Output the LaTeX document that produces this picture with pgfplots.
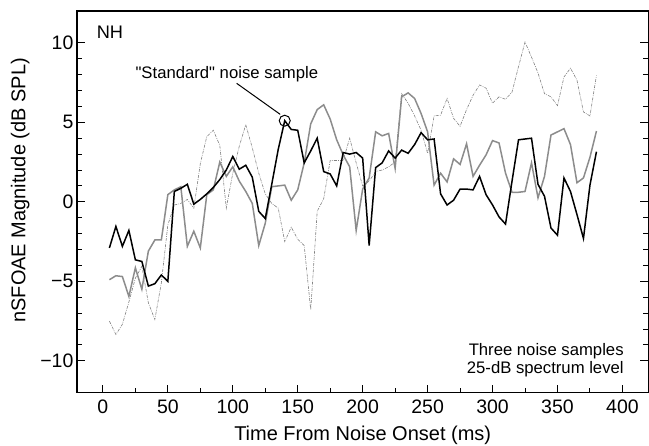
\documentclass[border=0pt]{standalone}
\usepackage{fontspec}
\setmainfont{Liberation Sans}
\usepackage{pgfplots}
\usepackage{pgfplotstable}
\pgfplotsset{compat=1.18}

% nSFOAE magnitude (dB SPL) vs time from noise onset (ms), three noise samples
\pgfplotstableread{
t    std    alt    thin
5    -2.9   -4.9   -7.5
10   -1.55  -4.65  -8.35
15   -2.8   -4.7   -7.7
20   -1.8   -5.95  -6.3
25   -3.65  -4.15  -4.8
30   -3.75  -5.5   -4.05
35   -5.3   -3.1   -6.35
40   -5.15  -2.4   -7.4
45   -4.6   -2.4   -5.1
50   -5.0   0.45   -1.45
55   0.65   0.75   -0.2
60   0.85   0.95   -0.1
65   1.1    -2.8   0.15
70   -0.15  -1.85  -0.4
75   0.15   -2.9   2.4
80   0.5    0.45   4.1
85   0.9    0.75   4.5
90   1.4    2.5    3.55
95   2.0    1.6    -0.4
100  2.85   2.2    1.8
105  2.05   1.3    3.5
110  2.3    0.65   4.85
115  1.55   -0.1   3.4
120  -0.6   -2.75  1.8
125  -1.05  -1.35  0.5
130  1.1    0.95   -0.1
135  3.3    1.0    -0.4
140  5.1    1.05   -2.5
145  4.55   0.1    -1.6
150  4.5    0.75   -2.35
155  2.45   2.45   -2.75
160  3.2    4.9    -6.8
165  4.0    5.8    -0.6
170  1.9    6.1    0.2
175  1.75   5.2    2.6
180  1.0    3.9    2.6
185  3.1    2.95   2.6
190  3.0    2.2    4.0
195  3.1    -1.8   2.45
200  2.75   0.8    1.0
205  -2.75  1.5    1.3
210  2.15   4.4    1.9
215  2.45   4.15   2.0
220  3.2    4.3    2.2
225  2.75   2.1    2.5
230  3.25   6.6    6.8
235  3.05   6.85   6.2
240  3.6    6.5    5.4
245  4.35   5.55   4.5
250  3.9    4.4    3.05
255  3.95   1.05   5.4
260  0.5    1.8    5.45
265  -0.2   1.25   6.5
270  0.1    2.7    5.25
275  0.8    2.35   4.75
280  0.8    3.65   5.8
285  0.75   1.6    6.7
290  1.6    2.3    7.35
295  0.45   2.95   7.15
300  -0.2   3.85   6.2
305  -0.95  3.7    6.6
310  -1.4   1.8    6.45
315  1.3    0.6    6.9
320  3.9    0.6    8.5
325  3.95   0.65   10.05
330  4.0    2.45   9.1
335  1.1    0.25   8.1
340  0.35   1.6    6.8
345  -1.65  4.2    6.6
350  -2.1   4.4    6.05
355  1.5    4.6    7.85
360  0.65   3.6    8.4
365  -0.8   1.2    7.65
370  -2.3   1.5    5.65
375  1.05   2.8    5.4
380  3.15   4.45   7.95
}\samples

\begin{document}
\begin{tikzpicture}
\begin{axis}[
    scale only axis,
    width=572bp, height=382bp,
    xmin=-20, xmax=420,
    ymin=-12, ymax=12,
    xtick={0,50,...,400},
    minor x tick num=1,
    ytick={-10,-5,0,5,10},
    yticklabels={−10,−5,0,5,10},
    minor y tick num=4,
    tick align=inside,
    xtick pos=lower,
    ytick pos=both,
    yticklabel pos=left,
    major tick length=8bp,
    minor tick length=5bp,
    every tick/.style={black, line width=1bp},
    axis line style={line width=1.2bp},
    /pgf/number format/assume math mode=true,
    tick label style={font=\fontsize{19.5bp}{22bp}\selectfont},
    xticklabel shift=4bp,
    label style={font=\fontsize{20bp}{23bp}\selectfont},
    xlabel={Time From Noise Onset (ms)},
    ylabel={nSFOAE Magnitude (dB SPL)},
    xlabel shift=5bp,
    ylabel shift=4bp,
    ylabel style={at={(ticklabel cs:0.53)}},
]
\addplot[black!50, line width=0.6bp, dash pattern=on 3bp off 1.2bp on 0.8bp off 1.2bp] table[x=t, y=thin] {\samples};
\addplot[black!45, line width=1.5bp] table[x=t, y=alt] {\samples};
\addplot[black, line width=1.5bp] table[x=t, y=std] {\samples};
\addplot[only marks, mark=o, mark size=5.5bp, mark options={black, line width=1bp}] coordinates {(140,5.1)};

\draw[black, line width=1bp] (axis cs:103,7.45) -- (axis cs:136.5,5.5);
\node[anchor=west, inner sep=0, font=\fontsize{16.7bp}{18bp}\selectfont] at (axis cs:25,8.04) {\textquotedbl Standard\textquotedbl{} noise sample};
\node[anchor=west, inner sep=0, font=\fontsize{18.2bp}{20bp}\selectfont] at (rel axis cs:0.0344,0.9437) {NH};
\node[anchor=east, align=right, inner sep=0, font=\fontsize{16.7bp}{17.5bp}\selectfont] at (rel axis cs:0.957,0.0856) {Three noise samples\\25-dB spectrum level};

\coordinate (sw) at (rel axis cs:0,0);
\coordinate (ne) at (rel axis cs:1,1);
\end{axis}
\pgfresetboundingbox
\path[use as bounding box] ([shift={(-77bp,-53bp)}]sw) rectangle ([shift={(0.6bp,11bp)}]ne);
\end{tikzpicture}
\end{document}
